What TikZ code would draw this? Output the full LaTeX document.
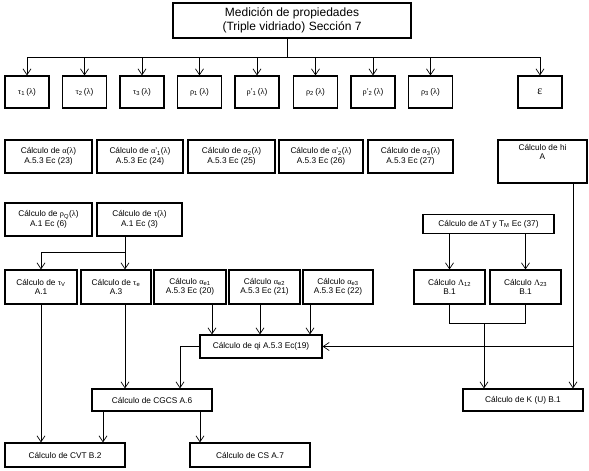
\documentclass[tikz,border=0pt]{standalone}
\usepackage{fontspec}
\setmainfont{Liberation Sans}
\newfontfamily\grk{Liberation Serif}
\newcommand{\gk}[1]{{\grk #1}}
\usetikzlibrary{arrows.meta}
\tikzset{
  cbox/.style={draw=black, line width=1.2pt, align=center, inner sep=1pt, font=\fontsize{8.3}{9.5}\selectfont},
  pbox/.style={cbox, minimum width=44pt, minimum height=32pt},
  abox/.style={cbox, minimum height=33pt},
  ebox/.style={cbox, minimum height=34pt},
  cwire/.style={line width=0.7pt, draw=black},
  carrow/.style={cwire, -{Straight Barb[length=6pt,width=8pt]}},
}
\begin{document}
\begin{tikzpicture}[x=1pt,y=-1pt]
\useasboundingbox (0,0) rectangle (589,471);
\node[cbox, minimum width=238pt, minimum height=35pt, font=\fontsize{12}{14}\selectfont] (med) at (292,20.5) {Medición de propiedades\\(Triple vidriado) Sección 7};
\node[pbox] (tau1) at (27,92) {\gk{τ}\textsubscript{1}\,(\gk{λ})};
\node[pbox] (tau2) at (84.5,92) {\gk{τ}\textsubscript{2}\,(\gk{λ})};
\node[pbox] (tau3) at (142,92) {\gk{τ}\textsubscript{3}\,(\gk{λ})};
\node[pbox] (rho1) at (199.5,92) {\gk{ρ}\textsubscript{1}\,(\gk{λ})};
\node[pbox] (rhop1) at (257,92) {\gk{ρ}'\textsubscript{1}\,(\gk{λ})};
\node[pbox] (rho2) at (315.5,92) {\gk{ρ}\textsubscript{2}\,(\gk{λ})};
\node[pbox] (rhop2) at (373,92) {\gk{ρ}'\textsubscript{2}\,(\gk{λ})};
\node[pbox] (rho3) at (430.5,92) {\gk{ρ}\textsubscript{3}\,(\gk{λ})};
\node[pbox, font=\fontsize{12}{14}\selectfont] (eps) at (540,92) {\gk{ε}};
\node[abox, minimum width=87pt] (alf) at (48.5,156.5) {Cálculo de \gk{α}(\gk{λ})\\A.5.3 Ec (23)};
\node[abox, minimum width=86pt] (alfp1) at (140,156.5) {Cálculo de \gk{α}'\textsubscript{1}(\gk{λ})\\A.5.3 Ec (24)};
\node[abox, minimum width=87pt] (alf2) at (231.5,156.5) {Cálculo de \gk{α}\textsubscript{2}(\gk{λ})\\A.5.3 Ec (25)};
\node[abox, minimum width=84pt] (alfp2) at (321,156.5) {Cálculo de \gk{α}'\textsubscript{2}(\gk{λ})\\A.5.3 Ec (26)};
\node[abox, minimum width=85pt] (alf3) at (410.5,156.5) {Cálculo de \gk{α}\textsubscript{3}(\gk{λ})\\A.5.3 Ec (27)};
\node[cbox, minimum width=89pt, minimum height=43pt, label={[cbox, draw=none, anchor=north, inner sep=4pt]north:{Cálculo de hi\\A}}] (hi) at (542.5,161.5) {};
\node[abox, minimum width=87pt] (rhoq) at (48.5,219.5) {Cálculo de \gk{ρ}\textsubscript{Q}(\gk{λ})\\A.1 Ec (6)};
\node[abox, minimum width=85pt] (taul) at (139.5,219.5) {Cálculo de \gk{τ}(\gk{λ})\\A.1 Ec (3)};
\node[cbox, minimum width=131pt, minimum height=19pt] (dt) at (488.5,224) {Cálculo de \gk{Δ}T y T\textsubscript{M} Ec (37)};
\node[ebox, minimum width=72pt] (tauv) at (41,287) {Cálculo de \gk{τ}\textsubscript{V}\\A.1};
\node[ebox, minimum width=70pt] (taue) at (116,287) {Cálculo de \gk{τ}\textsubscript{e}\\A.3};
\node[ebox, minimum width=72pt] (ae1) at (190,287) {Cálculo \gk{α}\textsubscript{e1}\\A.5.3 Ec (20)};
\node[ebox, minimum width=71pt] (ae2) at (264.5,287) {Cálculo \gk{α}\textsubscript{e2}\\A.5.3 Ec (21)};
\node[ebox, minimum width=70pt] (ae3) at (338,287) {Cálculo \gk{α}\textsubscript{e3}\\A.5.3 Ec (22)};
\node[ebox, minimum width=71pt] (lam12) at (449.5,287) {Cálculo \gk{Λ}\textsubscript{12}\\B.1};
\node[ebox, minimum width=71pt] (lam23) at (525.5,287) {Cálculo \gk{Λ}\textsubscript{23}\\B.1};
\node[cbox, minimum width=122pt, minimum height=23pt] (qi) at (261,346.5) {Cálculo de qi A.5.3 Ec(19)};
\node[cbox, minimum width=120pt, minimum height=22pt] (cgcs) at (152,400) {Cálculo de CGCS A.6};
\node[cbox, minimum width=120pt, minimum height=22pt] (kval) at (523,400) {Cálculo de K (U) B.1};
\node[cbox, minimum width=120pt, minimum height=24pt] (cvt) at (65,455) {Cálculo de CVT B.2};
\node[cbox, minimum width=120pt, minimum height=24pt] (cs) at (250,455) {Cálculo de CS A.7};
\coordinate (bus) at (287,57);
\coordinate (tsplit) at (125,252);
\coordinate (hiline) at ([xshift=30.5pt]hi.south);
\coordinate (ljoin) at (484,323);
\draw[cwire] (med.south -| bus) -- (bus);
\draw[cwire] (bus -| tau1) -- (bus -| eps);
\draw[carrow] (bus -| tau1) -- (tau1.north);
\draw[carrow] (bus -| tau2) -- (tau2.north);
\draw[carrow] (bus -| tau3) -- (tau3.north);
\draw[carrow] (bus -| rho1) -- (rho1.north);
\draw[carrow] (bus -| rhop1) -- (rhop1.north);
\draw[carrow] (bus -| rho2) -- (rho2.north);
\draw[carrow] (bus -| rhop2) -- (rhop2.north);
\draw[carrow] (bus -| rho3) -- (rho3.north);
\draw[carrow] (bus -| eps) -- (eps.north);
\draw[cwire] (taul.south -| tsplit) -- (tsplit);
\draw[carrow] (tsplit) -| (tauv.north);
\draw[carrow] (tsplit) -- (taue.north -| tsplit);
\draw[carrow] (tauv.south) -- (tauv.south |- cvt.north);
\draw[carrow] (taue.south -| tsplit) -- (cgcs.north -| tsplit);
\draw[carrow] ([xshift=22pt]ae1.south) -- ([xshift=22pt]ae1.south |- qi.north);
\draw[carrow] ([xshift=-4.5pt]ae2.south) -- ([xshift=-4.5pt]ae2.south |- qi.north);
\draw[carrow] ([xshift=-28pt]ae3.south) -- ([xshift=-28pt]ae3.south |- qi.north);
\draw[carrow] (qi.west) -| ([xshift=28pt]cgcs.north);
\draw[carrow] ([xshift=-49pt]cgcs.south) -- ([xshift=-49pt]cgcs.south |- cvt.north);
\draw[carrow] ([xshift=48pt]cgcs.south) -- ([xshift=48pt]cgcs.south |- cs.north);
\draw[carrow] (hiline) -- (hiline |- kval.north);
\draw[carrow] (hiline |- qi.east) -- (qi.east);
\draw[carrow] (dt.south -| lam12) -- (lam12.north);
\draw[carrow] (dt.south -| lam23) -- (lam23.north);
\draw[cwire] (lam12.south) -- (lam12.south |- ljoin) -| (lam23.south);
\draw[carrow] (ljoin) -- (ljoin |- kval.north);
\end{tikzpicture}
\end{document}
